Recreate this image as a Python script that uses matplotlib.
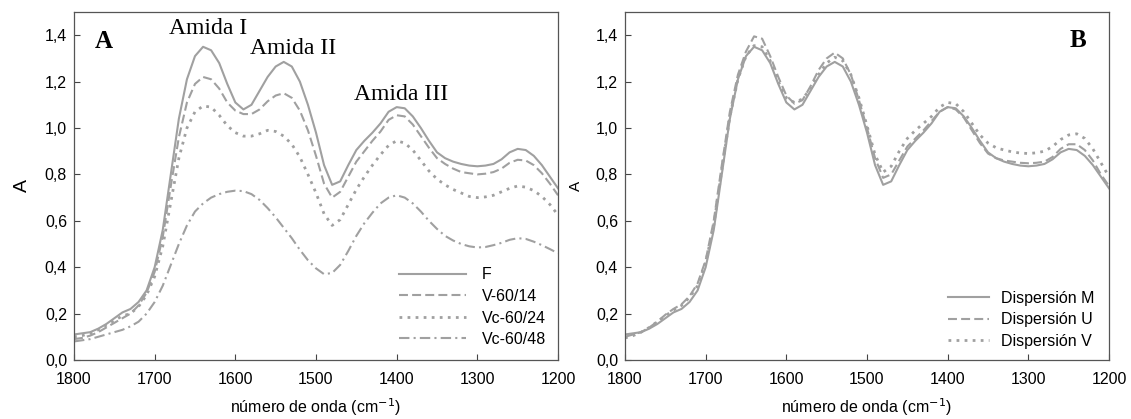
import matplotlib
matplotlib.use("Agg")
import matplotlib.pyplot as plt

wavenumber = list(range(1800, 1199, -10))

F = [0.11, 0.115, 0.12, 0.135, 0.155, 0.18, 0.205, 0.22, 0.25, 0.30,
     0.40, 0.56, 0.80, 1.04, 1.21, 1.31, 1.35, 1.335, 1.28, 1.19,
     1.11, 1.08, 1.10, 1.16, 1.22, 1.265, 1.285, 1.265, 1.20, 1.10,
     0.98, 0.84, 0.755, 0.77, 0.84, 0.905, 0.945, 0.98, 1.02, 1.07,
     1.09, 1.085, 1.05, 1.00, 0.945, 0.895, 0.87, 0.855, 0.845, 0.838,
     0.835, 0.838, 0.845, 0.865, 0.895, 0.91, 0.905, 0.88, 0.84, 0.79, 0.74]

V_60_14 = [0.09, 0.095, 0.105, 0.12, 0.14, 0.16, 0.18, 0.20, 0.235, 0.29,
           0.38, 0.53, 0.75, 0.96, 1.11, 1.19, 1.22, 1.21, 1.17, 1.11,
           1.075, 1.06, 1.06, 1.08, 1.115, 1.14, 1.15, 1.13, 1.075, 0.99,
           0.88, 0.76, 0.70, 0.725, 0.79, 0.855, 0.90, 0.945, 0.985, 1.035,
           1.055, 1.05, 1.015, 0.965, 0.915, 0.87, 0.845, 0.825, 0.81, 0.805,
           0.80, 0.803, 0.81, 0.825, 0.85, 0.863, 0.86, 0.84, 0.805, 0.76, 0.71]

Vc_60_24 = [0.10, 0.105, 0.115, 0.13, 0.15, 0.17, 0.19, 0.20, 0.23, 0.28,
            0.36, 0.49, 0.68, 0.87, 1.00, 1.07, 1.095, 1.09, 1.055, 1.01,
            0.98, 0.965, 0.965, 0.975, 0.99, 0.985, 0.965, 0.93, 0.875, 0.80,
            0.72, 0.63, 0.58, 0.605, 0.67, 0.735, 0.79, 0.84, 0.885, 0.925,
            0.945, 0.935, 0.905, 0.86, 0.815, 0.78, 0.755, 0.735, 0.72, 0.705,
            0.70, 0.703, 0.71, 0.725, 0.74, 0.75, 0.745, 0.73, 0.705, 0.67, 0.625]

Vc_60_48 = [0.08, 0.085, 0.09, 0.10, 0.11, 0.12, 0.13, 0.145, 0.165, 0.20,
            0.25, 0.32, 0.41, 0.50, 0.58, 0.64, 0.675, 0.70, 0.715, 0.725,
            0.73, 0.728, 0.715, 0.69, 0.655, 0.615, 0.57, 0.525, 0.475, 0.43,
            0.395, 0.37, 0.375, 0.41, 0.47, 0.535, 0.59, 0.635, 0.675, 0.70,
            0.71, 0.70, 0.675, 0.64, 0.60, 0.565, 0.535, 0.515, 0.50, 0.49,
            0.485, 0.487, 0.495, 0.505, 0.518, 0.525, 0.522, 0.51, 0.495, 0.478, 0.46]

Disp_M = F

Disp_U = [0.10, 0.11, 0.12, 0.14, 0.165, 0.195, 0.22, 0.24, 0.275, 0.33,
          0.43, 0.60, 0.84, 1.07, 1.23, 1.33, 1.395, 1.385, 1.31, 1.22,
          1.14, 1.105, 1.12, 1.18, 1.25, 1.30, 1.325, 1.30, 1.23, 1.12,
          1.00, 0.87, 0.785, 0.80, 0.86, 0.92, 0.955, 0.99, 1.03, 1.07,
          1.09, 1.08, 1.045, 0.99, 0.935, 0.89, 0.87, 0.86, 0.855, 0.85,
          0.848, 0.85, 0.855, 0.875, 0.91, 0.93, 0.93, 0.905, 0.86, 0.80, 0.75]

Disp_V = [0.095, 0.105, 0.12, 0.14, 0.165, 0.19, 0.215, 0.235, 0.27, 0.32,
          0.42, 0.58, 0.82, 1.05, 1.21, 1.31, 1.355, 1.35, 1.29, 1.20,
          1.13, 1.11, 1.125, 1.17, 1.23, 1.28, 1.305, 1.29, 1.23, 1.13,
          1.01, 0.885, 0.81, 0.835, 0.90, 0.955, 0.99, 1.02, 1.05, 1.09,
          1.11, 1.105, 1.07, 1.02, 0.97, 0.935, 0.915, 0.905, 0.897, 0.892,
          0.89, 0.893, 0.90, 0.92, 0.95, 0.97, 0.975, 0.955, 0.91, 0.85, 0.79]

labels_A = ["F", "V-60/14", "Vc-60/24", "Vc-60/48"]
labels_B = ["Dispersión M", "Dispersión U", "Dispersión V"]
xticks = [1800, 1700, 1600, 1500, 1400, 1300, 1200]
yticks = [0.0, 0.2, 0.4, 0.6, 0.8, 1.0, 1.2, 1.4]

plt.rcParams['font.family'] = ['Liberation Sans', 'DejaVu Sans']
LC = '#a0a0a0'
LW = 1.5
styles = ['-', (0, (4.3, 2.0)), (0, (1.0, 1.9)), (0, (5.0, 2.0, 1.0, 2.0))]
widths = [LW, LW, LW + 0.5, LW]

W, H = 1131, 419
fig = plt.figure(figsize=(W / 100, H / 100), dpi=100)
axA = fig.add_axes([74 / W, (H - 360) / H, 484 / W, 348 / H])
axB = fig.add_axes([625 / W, (H - 360) / H, 484 / W, 348 / H])

for ys, lab, ls, lw in zip([F, V_60_14, Vc_60_24, Vc_60_48], labels_A, styles, widths):
    axA.plot(wavenumber, ys, color=LC, lw=lw, ls=ls, label=lab)
for ys, lab, ls, lw in zip([Disp_M, Disp_U, Disp_V], labels_B, styles[:3], widths[:3]):
    axB.plot(wavenumber, ys, color=LC, lw=lw, ls=ls, label=lab)

for ax in (axA, axB):
    ax.set_xlim(1800, 1200)
    ax.set_ylim(0, 1.5)
    ax.set_xticks(xticks)
    ax.set_xticklabels([str(t) for t in xticks])
    ax.set_yticks(yticks)
    ax.set_yticklabels([f"{t:.1f}".replace('.', ',') for t in yticks])
    ax.tick_params(direction='in', length=4, width=0.8, color='#444444',
                   labelsize=11.5)
    ax.tick_params(axis='x', pad=8.5)
    ax.tick_params(axis='y', pad=5)
    for s in ax.spines.values():
        s.set_color('#555555')
        s.set_linewidth(0.9)
    ax.set_xlabel("número de onda (cm$^{-1}$)", fontsize=11.5, labelpad=7)

axA.set_ylabel("A", fontsize=14, labelpad=10)
axB.set_ylabel("A", fontsize=11, labelpad=9)

serif = ['Liberation Serif', 'DejaVu Serif']
axA.text(0.043, 0.897, "A", transform=axA.transAxes, family=serif,
         fontsize=18, fontweight='bold', va='baseline')
axB.text(0.919, 0.9, "B", transform=axB.transAxes, family=serif,
         fontsize=18, fontweight='bold', va='baseline')
axA.text(1634, 1.405, "Amida I", family=serif, fontsize=17, ha='center', va='baseline')
axA.text(1528, 1.319, "Amida II", family=serif, fontsize=17, ha='center', va='baseline')
axA.text(1394, 1.12, "Amida III", family=serif, fontsize=17, ha='center', va='baseline')

axA.legend(loc='upper left', bbox_to_anchor=(0.671, 0.266), frameon=False,
           borderpad=0, borderaxespad=0,
           fontsize=11.5, handlelength=4.2, handletextpad=1.0, labelspacing=0.41)
axB.legend(loc='upper left', bbox_to_anchor=(0.667, 0.199), frameon=False,
           borderpad=0, borderaxespad=0,
           fontsize=11.5, handlelength=2.6, handletextpad=0.7, labelspacing=0.41)

fig.savefig("out.png", dpi=100)
